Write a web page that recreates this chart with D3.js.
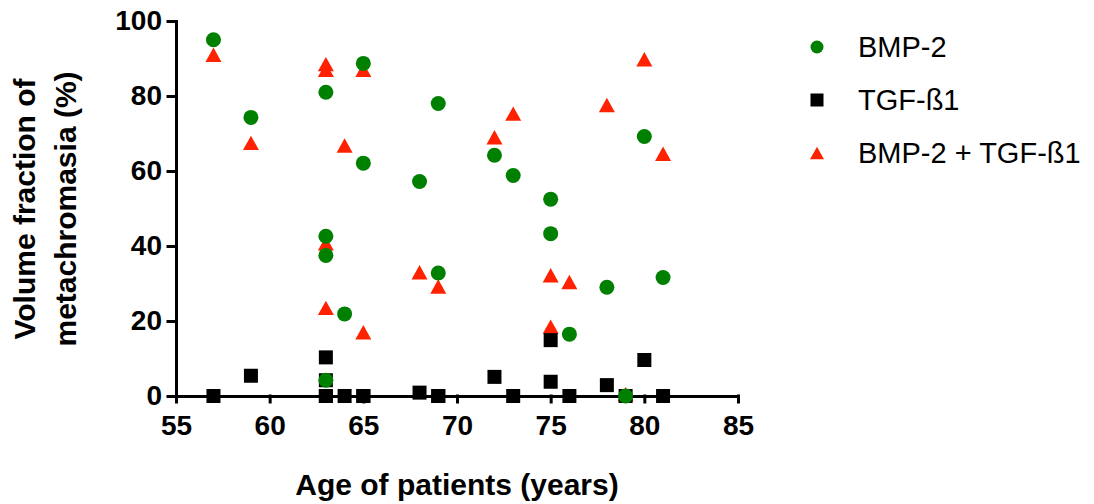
<!DOCTYPE html>
<html>
<head>
<meta charset="utf-8">
<script src="https://cdn.jsdelivr.net/npm/d3@7"></script>
<style>
  body { margin: 0; background: #fff; }
  svg text { font-family: Arial, "Liberation Sans", Helvetica, sans-serif; }
</style>
</head>
<body>
<div id="chart"></div>
<script>
var w = 1094, h = 504;

// data
var xTicks = [55, 60, 65, 70, 75, 80, 85];
var yTicks = [0, 20, 40, 60, 80, 100];

var bmpAge = [57, 59, 63, 63, 63, 63, 64, 65, 65, 68, 69, 69, 72, 73, 75, 75, 76, 78, 79, 80, 81];
var bmpVal = [95, 74.3, 81, 42.6, 37.5, 4.2, 21.9, 88.7, 62.1, 57.2, 78, 32.8, 64.2, 58.8, 52.5, 43.3, 16.5, 29, 0, 69.2, 31.6];

var tgfAge = [57, 59, 63, 63, 63, 63, 64, 65, 65, 68, 69, 69, 72, 73, 75, 75, 76, 78, 79, 80, 81];
var tgfVal = [0, 5.4, 10.3, 4.2, 0, 0, 0, 0, 0, 0.9, 0, 0, 5.1, 0, 14.9, 3.8, 0, 2.9, 0, 9.6, 0];

var comboAge = [57, 59, 63, 63, 63, 63, 64, 65, 65, 68, 69, 72, 73, 75, 75, 76, 78, 79, 80, 81];
var comboVal = [91, 67.5, 88.5, 87, 40.7, 23.5, 66.8, 87, 17, 33, 29.2, 69, 75.3, 32.2, 18.5, 30.4, 77.6, 0.5, 89.8, 64.6];

var seriesNames = ['BMP-2', 'TGF-\u00df1', 'BMP-2 + TGF-\u00df1'];

var svg = d3.select('#chart').append('svg')
  .attr('width', w)
  .attr('height', h);

var x = d3.scaleLinear().domain([55, 85]).range([176, 738]);
var y = d3.scaleLinear().domain([0, 100]).range([396, 21]);

// axes
var yAxis = svg.append('g')
  .attr('transform', 'translate(176,0)')
  .call(d3.axisLeft(y).tickValues(yTicks).tickSize(8).tickSizeOuter(0).tickPadding(6));

var xAxis = svg.append('g')
  .attr('transform', 'translate(0,396)')
  .call(d3.axisBottom(x).tickValues(xTicks).tickSize(6).tickSizeOuter(0).tickPadding(13));

[xAxis, yAxis].forEach(function(ax) {
  ax.selectAll('path, line').attr('stroke', '#000').attr('stroke-width', 3).attr('stroke-linecap', 'square');
  ax.selectAll('text')
    .attr('fill', '#000')
    .style('font-size', '28px')
    .style('font-weight', 'bold');
});

// markers
function triPath(s) {
  var hw = s / 2, hh = s * 0.45;
  return 'M0,' + (-hh) + 'L' + hw + ',' + hh + 'L' + (-hw) + ',' + hh + 'Z';
}

var plot = svg.append('g');

plot.selectAll('.tri')
  .data(d3.range(comboAge.length))
  .enter().append('path')
  .attr('class', 'tri')
  .attr('d', triPath(16))
  .attr('fill', '#ff2200')
  .attr('transform', function(i) { return 'translate(' + x(comboAge[i]) + ',' + y(comboVal[i]) + ')'; });

plot.selectAll('.sq')
  .data(d3.range(tgfAge.length))
  .enter().append('rect')
  .attr('class', 'sq')
  .attr('width', 14).attr('height', 14)
  .attr('fill', '#000')
  .attr('x', function(i) { return x(tgfAge[i]) - 7; })
  .attr('y', function(i) { return y(tgfVal[i]) - 7; });

plot.selectAll('.dot')
  .data(d3.range(bmpAge.length))
  .enter().append('circle')
  .attr('class', 'dot')
  .attr('r', 7.5)
  .attr('fill', '#008000')
  .attr('cx', function(i) { return x(bmpAge[i]); })
  .attr('cy', function(i) { return y(bmpVal[i]); });

// axis titles
svg.append('text')
  .attr('x', 457).attr('y', 495)
  .attr('text-anchor', 'middle')
  .style('font-size', '30px').style('font-weight', 'bold')
  .text('Age of patients (years)');

svg.append('text')
  .attr('transform', 'translate(35,209) rotate(-90)')
  .attr('text-anchor', 'middle')
  .style('font-size', '30px').style('font-weight', 'bold')
  .text('Volume fraction of');

svg.append('text')
  .attr('transform', 'translate(76,209) rotate(-90)')
  .attr('text-anchor', 'middle')
  .style('font-size', '30px').style('font-weight', 'bold')
  .text('metachromasia (%)');

// legend
var legend = svg.append('g');
var legY = [47, 100, 153];

legend.append('circle').attr('cx', 817).attr('cy', legY[0]).attr('r', 6.5).attr('fill', '#008000');
legend.append('rect').attr('x', 810.5).attr('y', legY[1] - 6.5).attr('width', 13).attr('height', 13).attr('fill', '#000');
legend.append('path').attr('d', triPath(14)).attr('fill', '#ff2200')
  .attr('transform', 'translate(817,' + legY[2] + ')');

legend.selectAll('.leg-text')
  .data(seriesNames)
  .enter().append('text')
  .attr('class', 'leg-text')
  .attr('x', 858)
  .attr('y', function(d, i) { return legY[i] + 10; })
  .style('font-size', '29px')
  .attr('fill', '#000')
  .text(function(d) { return d; });
</script>
</body>
</html>
